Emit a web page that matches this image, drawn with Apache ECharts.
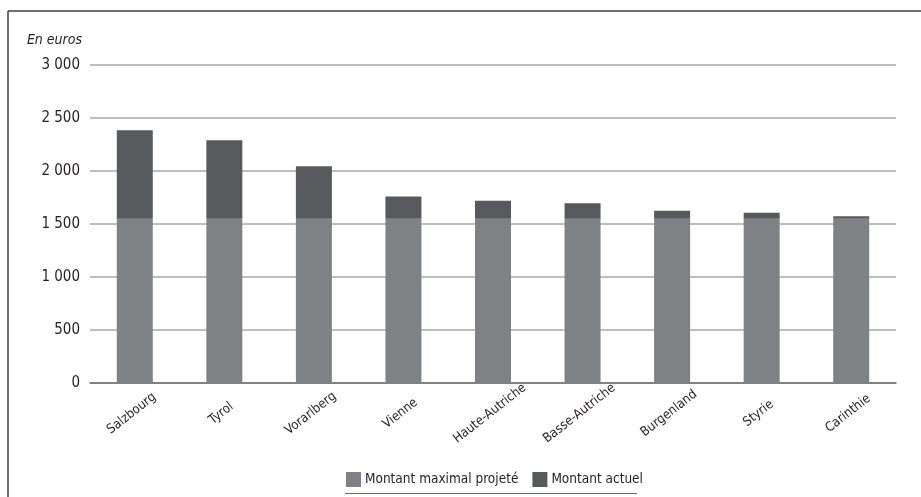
<!DOCTYPE html>
<html><head><meta charset="utf-8">
<script src="https://cdn.jsdelivr.net/npm/echarts@6/dist/echarts.min.js"></script>
<style>html,body{margin:0;padding:0;background:#fff}#c{width:921px;height:497px}</style>
</head><body><div id="c"></div>
<script>
const categories = ['Salzbourg','Tyrol','Vorarlberg','Vienne','Haute-Autriche','Basse-Autriche','Burgenland','Styrie','Carinthie'];
const montantMaximal = [1550,1550,1550,1550,1550,1550,1550,1550,1550];
const montantActuelExces = [835,740,495,210,170,145,76,57,23];
const yTicks = [0,500,1000,1500,2000,2500,3000];
const FONT = "'Liberation Sans Narrow','DejaVu Sans Condensed','Roboto Condensed',sans-serif";
const chart = echarts.init(document.getElementById('c'));
chart.setOption({
  animation:false,
  grid:{left:90,right:25,top:65,bottom:114},
  legend:{top:467,left:341,itemWidth:15,itemHeight:15,itemGap:14,icon:'rect',
    textStyle:{fontFamily:FONT,fontSize:13.5,color:'#231f20',padding:[0,0,0,-1]},
    data:['Montant maximal projeté','Montant actuel']},
  xAxis:{type:'category',data:categories,
    axisLine:{lineStyle:{color:'#6d6e71',width:1.5}},axisTick:{show:false},
    axisLabel:{rotate:38,align:'center',verticalAlign:'middle',padding:[0,8,0,0],
      fontFamily:FONT,fontSize:13,color:'#231f20',margin:28,interval:0}},
  yAxis:{type:'value',min:yTicks[0],max:yTicks[yTicks.length-1],interval:500,
    name:'En euros',nameLocation:'end',nameGap:18,
    nameTextStyle:{fontFamily:FONT,fontSize:14,fontStyle:'italic',color:'#231f20',align:'right',padding:[0,8,0,0]},
    axisLine:{show:false},axisTick:{show:false},
    splitLine:{lineStyle:{color:'#a7a9ac',width:1.5}},
    axisLabel:{fontFamily:FONT,fontSize:15,color:'#231f20',margin:10,
      formatter:v=>v>=1000?Math.floor(v/1000)+' '+String(v%1000).padStart(3,'0'):String(v)}},
  series:[
    {name:'Montant maximal projeté',type:'bar',stack:'s',barWidth:36,data:montantMaximal,
      itemStyle:{color:'#808184'}},
    {name:'Montant actuel',type:'bar',stack:'s',barWidth:36,data:montantActuelExces,
      itemStyle:{color:'#58595b'}}
  ],
  graphic:[
    {type:'line',shape:{x1:8,y1:11,x2:921,y2:11},style:{stroke:'#414042',lineWidth:1.5}},
    {type:'line',shape:{x1:8,y1:11,x2:8,y2:497},style:{stroke:'#414042',lineWidth:1.5}},
    {type:'line',shape:{x1:345,y1:493.5,x2:637,y2:493.5},style:{stroke:'#6d6e71',lineWidth:1}}
  ]
});
</script></body></html>
